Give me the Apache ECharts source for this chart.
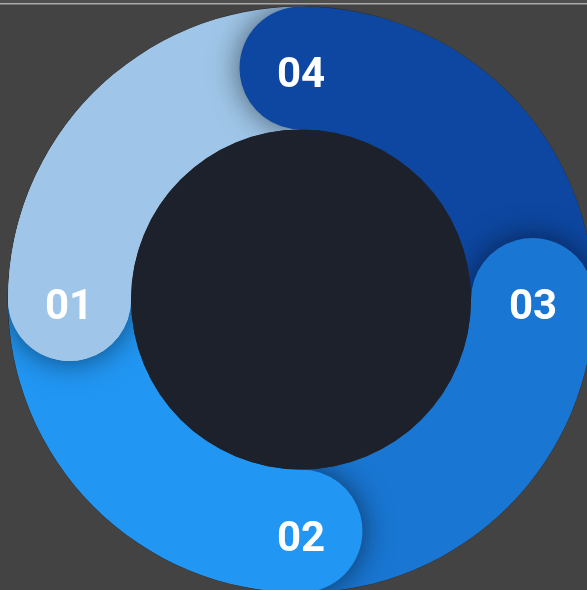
<!DOCTYPE html>
<html><head><meta charset="utf-8">
<script src="https://cdn.jsdelivr.net/npm/echarts@6/dist/echarts.min.js"></script>
<style>html,body{margin:0;padding:0;background:#434343;overflow:hidden}#c{width:587px;height:590px}</style>
</head><body><div id="c"></div>
<script>
// ---- data ----
const categories = ['01', '02', '03', '04'];
const values = [25, 25, 25, 25];
const colors = ['#9fc6e8', '#2196f3', '#1976d2', '#0d47a1'];

// ---- layout ----
const CX = 301, CY = 299.5, R0 = 170, R1 = 293;
const CAP = (R1 - R0) / 2, MID = (R1 + R0) / 2;
const DELTA = Math.asin(CAP / MID) * 180 / Math.PI;
const BASE = 90; // tail of the first segment (degrees, counter-clockwise)
const total = values.reduce((a, b) => a + b, 0);
const bounds = [BASE];
values.forEach(v => bounds.push(bounds[bounds.length - 1] + v / total * 360));

const shadow = { shadowBlur: 30, shadowColor: 'rgba(0,0,0,0.55)' };

function layer(i, from, to, withShadow) {
  return {
    type: 'pie', silent: true, clockwise: false,
    center: [CX, CY], radius: [R0, R1],
    startAngle: from, endAngle: to,
    label: { show: false }, labelLine: { show: false },
    emphasis: { disabled: true },
    itemStyle: Object.assign({ color: colors[i], borderRadius: CAP, borderWidth: 0 }, withShadow ? shadow : {}),
    data: [{ name: categories[i], value: values[i] }]
  };
}

const series = [];
// first segment underneath
series.push(layer(0, bounds[0] - DELTA, bounds[1] + DELTA, true));
// remaining segments, last one first
for (let i = values.length - 1; i >= 1; i--) {
  series.push(layer(i, bounds[i] - DELTA, bounds[i + 1] + DELTA, true));
}
// first segment's head drawn again on top (closes the circular overlap)
series.push(layer(0, bounds[1] - 25 - DELTA, bounds[1] + DELTA, true));
series.push(layer(0, bounds[1] - 50 - DELTA, bounds[1] + DELTA, false));
// centre disc
series.push({
  type: 'pie', silent: true, center: [CX, CY], radius: [0, R0],
  label: { show: false }, labelLine: { show: false }, emphasis: { disabled: true },
  itemStyle: { color: '#1c212b' }, data: [{ value: 1, name: 'centre' }]
});
// outer mask hides shadow spill onto the background
series.push({
  type: 'pie', silent: true, center: [CX, CY], radius: [R1 + 0.3, 900],
  label: { show: false }, labelLine: { show: false }, emphasis: { disabled: true },
  itemStyle: { color: '#434343' }, data: [{ value: 1, name: 'mask' }]
});
// labels at the caps
series.push({
  type: 'pie', silent: true, clockwise: false,
  center: [CX, CY + 9], radius: [R0 - 5, R1],
  startAngle: bounds[1] - values[0] / total * 180,
  itemStyle: { color: 'rgba(0,0,0,0)' },
  emphasis: { disabled: true }, labelLine: { show: false },
  label: {
    show: true, position: 'inside', formatter: '{b}',
    color: '#ffffff', fontSize: 42, fontWeight: 'bold', fontFamily: 'Roboto'
  },
  data: categories.map((c, i) => ({ name: c, value: values[i] }))
});

const chart = echarts.init(document.getElementById('c'), null, { renderer: 'canvas' });
chart.setOption({
  backgroundColor: '#434343',
  animation: false,
  series: series,
  graphic: [
    { type: 'rect', z: 100, shape: { x: 0, y: 0, width: 587, height: 3 }, style: { fill: '#4f4f4f' } },
    { type: 'rect', z: 100, shape: { x: 0, y: 3, width: 587, height: 1.6 }, style: { fill: '#a9a9a9' } }
  ]
});
</script></body></html>
